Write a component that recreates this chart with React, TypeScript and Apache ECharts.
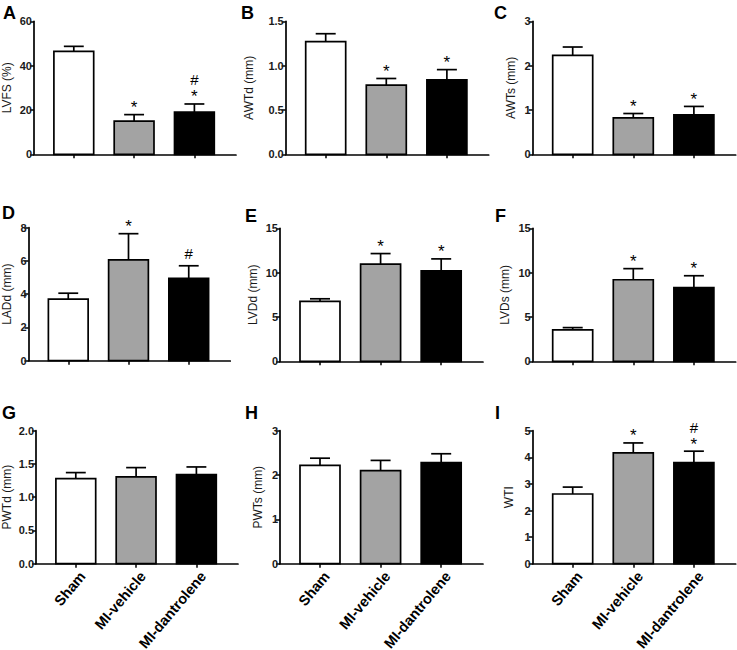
import React, { useEffect, useRef } from "react";
import * as echarts from "echarts";

// ---------- data ----------
const categories = ["Sham", "MI-vehicle", "MI-dantrolene"];
const barColors = ["#ffffff", "#a3a3a3", "#000000"];

const panelLetters = ["A", "B", "C", "D", "E", "F", "G", "H", "I"];
const yNames = ["LVFS (%)", "AWTd (mm)", "AWTs (mm)", "LADd (mm)", "LVDd (mm)", "LVDs (mm)", "PWTd (mm)", "PWTs (mm)", "WTI"];
const yMax = [60, 1.5, 3, 8, 15, 15, 2, 3, 5];
const yInterval = [20, 0.5, 1, 2, 5, 5, 0.5, 1, 1];
const yDecimals = [0, 1, 0, 0, 0, 0, 1, 0, 0];

const lvfsMean = [46.4, 15.0, 19.0];
const lvfsSem = [2.3, 2.9, 3.7];
const lvfsSig = ["", "*", "*#"];

const awtdMean = [1.27, 0.78, 0.84];
const awtdSem = [0.09, 0.075, 0.115];
const awtdSig = ["", "*", "*"];

const awtsMean = [2.23, 0.82, 0.89];
const awtsSem = [0.19, 0.1, 0.19];
const awtsSig = ["", "*", "*"];

const laddMean = [3.7, 6.06, 4.95];
const laddSem = [0.36, 1.58, 0.76];
const laddSig = ["", "*", "#"];

const lvddMean = [6.75, 10.95, 10.2];
const lvddSem = [0.3, 1.2, 1.35];
const lvddSig = ["", "*", "*"];

const lvdsMean = [3.55, 9.2, 8.3];
const lvdsSem = [0.25, 1.25, 1.35];
const lvdsSig = ["", "*", "*"];

const pwtdMean = [1.28, 1.305, 1.34];
const pwtdSem = [0.09, 0.14, 0.115];
const pwtdSig = ["", "", ""];

const pwtsMean = [2.22, 2.1, 2.28];
const pwtsSem = [0.16, 0.23, 0.2];
const pwtsSig = ["", "", ""];

const wtiMean = [2.62, 4.17, 3.8];
const wtiSem = [0.26, 0.37, 0.43];
const wtiSig = ["", "*", "*#"];

const means = [lvfsMean, awtdMean, awtsMean, laddMean, lvddMean, lvdsMean, pwtdMean, pwtsMean, wtiMean];
const sems = [lvfsSem, awtdSem, awtsSem, laddSem, lvddSem, lvdsSem, pwtdSem, pwtsSem, wtiSem];
const sigs = [lvfsSig, awtdSig, awtsSig, laddSig, lvddSig, lvdsSig, pwtdSig, pwtsSig, wtiSig];

// ---------- layout ----------
const gridLefts = [33, 285.7, 532.7, 27.3, 280, 532.7, 35, 280, 532.7];
const gridTops = [21.3, 21.3, 21.3, 227.7, 228.3, 228.3, 430.7, 430.7, 430.7];
const nameGaps = [21, 30.5, 15.5, 15.5, 21.5, 21.5, 23, 16, 17.5];
const letterPos = [[3, 4], [241, 4], [494, 4], [2, 204], [245, 207], [495, 207], [2, 404], [245, 404], [495, 404]];
const GRID_W = 203;
const GRID_H = 133;
const LABEL_ANGLE = (50 * Math.PI) / 180;
const FONT = "'Liberation Sans', Arial, sans-serif";

export default function App() {
  const ref = useRef<HTMLDivElement>(null);
  useEffect(() => {
    if (!ref.current) return;
    const chart = echarts.init(ref.current, null, { renderer: "svg" });
    const grid: any[] = [];
    const xAxis: any[] = [];
    const yAxis: any[] = [];
    const series: any[] = [];
    const title: any[] = [];
    for (let i = 0; i < 9; i++) {
      const row = Math.floor(i / 3);
      grid.push({ left: gridLefts[i], top: gridTops[i], width: GRID_W, height: GRID_H });
      xAxis.push({
        type: "value",
        gridIndex: i,
        min: -0.66,
        max: 2.69,
        splitLine: { show: false },
        axisLine: { show: true, onZero: false, lineStyle: { color: "#000", width: 1.7 } },
        axisTick: { show: true, customValues: [0, 1, 2], length: 4, lineStyle: { color: "#000", width: 1.5 } },
        axisLabel: { show: false },
      });
      const dec = yDecimals[i];
      yAxis.push({
        type: "value",
        gridIndex: i,
        min: 0,
        max: yMax[i],
        interval: yInterval[i],
        splitLine: { show: false },
        axisLine: { show: true, onZero: false, lineStyle: { color: "#000", width: 1.7 } },
        axisTick: { show: true, length: 4, lineStyle: { color: "#000", width: 1.5 } },
        axisLabel: {
          fontSize: 11,
          fontWeight: "bold",
          color: "#1a1a1a",
          fontFamily: FONT,
          margin: 2,
          formatter: (v: number) => v.toFixed(dec),
        },
        name: yNames[i],
        nameLocation: "middle",
        nameGap: nameGaps[i],
        nameTextStyle: { fontSize: 12, color: "#1a1a1a", fontFamily: FONT },
      });
      title.push({
        text: panelLetters[i],
        left: letterPos[i][0],
        top: letterPos[i][1],
        padding: 0,
        textStyle: { fontSize: 18, fontWeight: "bold", color: "#000", fontFamily: FONT },
      });
      const sig = sigs[i];
      const showCats = row === 2;
      series.push({
        type: "custom",
        xAxisIndex: i,
        yAxisIndex: i,
        clip: false,
        data: means[i].map((m, k) => [k, m, sems[i][k]]),
        renderItem: (params: any, api: any) => {
          const k = params.dataIndex;
          const x = api.value(0);
          const m = api.value(1);
          const s = api.value(2);
          const base = api.coord([x, 0]);
          const top = api.coord([x, m]);
          const errTop = api.coord([x, m + s]);
          const bw = api.size([1, 0])[0] * 0.66;
          const cap = bw * 0.5;
          const children: any[] = [
            {
              type: "line",
              shape: { x1: base[0], y1: top[1], x2: base[0], y2: errTop[1] },
              style: { stroke: "#000", lineWidth: 1.7 },
            },
            {
              type: "line",
              shape: { x1: base[0] - cap / 2, y1: errTop[1], x2: base[0] + cap / 2, y2: errTop[1] },
              style: { stroke: "#000", lineWidth: 1.7 },
            },
            {
              type: "rect",
              shape: { x: base[0] - bw / 2, y: top[1], width: bw, height: base[1] - top[1] },
              style: { fill: barColors[k], stroke: "#000", lineWidth: 1.7 },
            },
          ];
          const marks = sig[k].split("");
          let yy = errTop[1] - 12;
          marks.forEach((ch: string) => {
            const isStar = ch === "*";
            children.push({
              type: "text",
              x: base[0],
              y: yy + (isStar ? 5 : 0),
              style: {
                text: ch,
                fontSize: isStar ? 17 : 15,
                fontFamily: FONT,
                fill: "#000",
                align: "center",
                verticalAlign: "middle",
              },
            });
            yy -= 12;
          });
          if (showCats) {
            children.push({
              type: "text",
              x: base[0] + 1,
              y: base[1] + 5,
              rotation: LABEL_ANGLE,
              style: {
                text: categories[k],
                fontSize: 14.5,
                fontWeight: "bold",
                fontFamily: FONT,
                fill: "#000",
                align: "right",
                verticalAlign: "top",
              },
            });
          }
          return { type: "group", children };
        },
      });
    }
    chart.setOption({
      animation: false,
      backgroundColor: "#fff",
      title,
      grid,
      xAxis,
      yAxis,
      series,
    });
    return () => chart.dispose();
  }, []);
  return (
    <div
      ref={ref}
      style={{ position: "absolute", left: 0, top: 0, width: 737, height: 650, background: "#fff" }}
    />
  );
}
